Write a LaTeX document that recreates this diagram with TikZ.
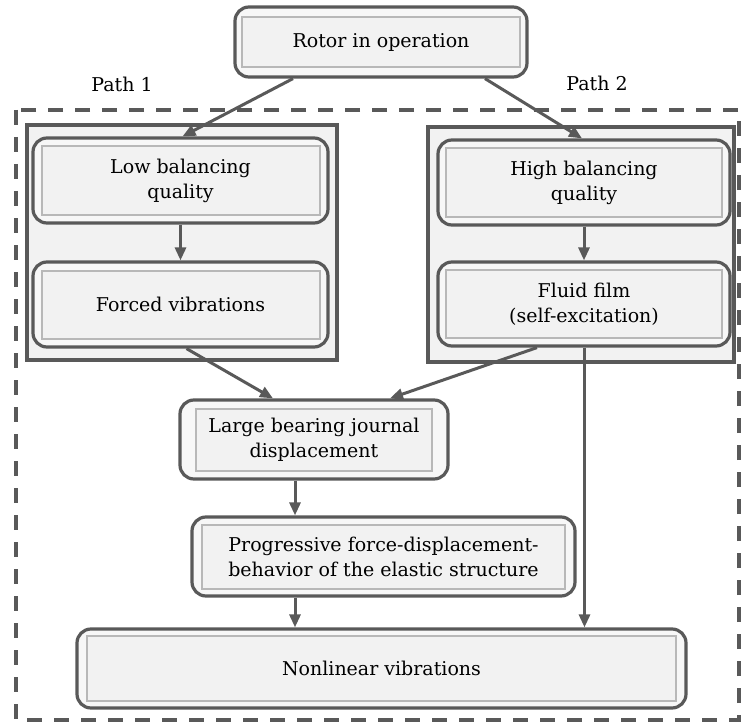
\documentclass[tikz,border=0pt]{standalone}
\usepackage{fontspec}
\setmainfont{DejaVu Serif}
\usetikzlibrary{positioning,calc,arrows.meta}

\definecolor{linegray}{HTML}{595959}
\definecolor{boxgray}{HTML}{F2F2F2}
\definecolor{edgegray}{HTML}{B8B8B8}

\tikzset{
  outerbox/.style={draw=linegray, line width=3.2pt, rounded corners=14pt, fill=boxgray!60, inner sep=0pt},
  innerbox/.style={draw=edgegray, line width=2pt, fill=boxgray, align=center, inner sep=0pt},
  groupbox/.style={draw=linegray, line width=3.6pt, fill=boxgray},
  dashbox/.style={draw=linegray, line width=4pt, dash pattern=on 15pt off 12pt},
  arr/.style={draw=linegray, line width=3pt, -{Triangle[length=13pt,width=11pt]}}
}

\begin{document}
\begin{tikzpicture}[x=1pt, y=-1pt, every node/.style={font=\fontsize{19}{25}\selectfont}]
  \useasboundingbox (0,0) rectangle (741,722);

  % Dashed frame and the two path groups
  \draw[dashbox] (16,110) rectangle (739,720);
  \draw[groupbox] (27,125) rectangle (337,360);
  \draw[groupbox] (428,127) rectangle (734,362);

  % Path labels
  \node (path1) at (122,84) {Path 1};
  \node (path2) at (597,83) {Path 2};

  % Blocks: outer rounded frame + inner shaded box
  \node[outerbox, minimum width=292, minimum height=70] (rotor) at (381,42) {};
  \node[innerbox, minimum width=278, minimum height=50] at (rotor) {Rotor in operation};

  \node[outerbox, minimum width=295, minimum height=85] (low) at (180.5,180.5) {};
  \node[innerbox, minimum width=278, minimum height=68] at (low) {Low balancing\\quality};

  \node[outerbox, minimum width=295, minimum height=85] (forced) at (180.5,304.5) {};
  \node[innerbox, minimum width=278, minimum height=68] at (forced) {Forced vibrations};

  \node[outerbox, minimum width=292, minimum height=85] (high) at (584,182.5) {};
  \node[innerbox, minimum width=276, minimum height=68] at (high) {High balancing\\quality};

  \node[outerbox, minimum width=292, minimum height=84] (fluid) at (584,304) {};
  \node[innerbox, minimum width=276, minimum height=68] at (fluid) {Fluid film\\(self-excitation)};

  \node[outerbox, minimum width=268, minimum height=79] (large) at (314,439.5) {};
  \node[innerbox, minimum width=236, minimum height=62] at (large) {Large bearing journal\\displacement};

  \node[outerbox, minimum width=383, minimum height=79] (prog) at (383.5,556.5) {};
  \node[innerbox, minimum width=363, minimum height=64] at (prog) {Progressive force-displacement-\\behavior of the elastic structure};

  \node[outerbox, minimum width=609, minimum height=79] (nonlin) at (381.5,668.5) {};
  \node[innerbox, minimum width=589, minimum height=65] at (nonlin) {Nonlinear vibrations};

  % Connectors
  \coordinate (spine) at (295,0);
  \draw[arr] ([xshift=-88pt]rotor.south) -- ([xshift=2pt]low.north);
  \draw[arr] ([xshift=104pt]rotor.south) -- ([xshift=-2pt]high.north);
  \draw[arr] (low) -- (forced);
  \draw[arr] (high) -- (fluid);
  \draw[arr] ([xshift=6pt]forced.south) -- ([xshift=-41pt]large.north);
  \draw[arr] ([xshift=-47pt]fluid.south) -- ([xshift=76pt]large.north);
  \draw[arr] ([xshift=0.5pt]fluid.south) -- ([xshift=0.5pt]fluid.south |- nonlin.north);
  \draw[arr] (large.south -| spine) -- (prog.north -| spine);
  \draw[arr] (prog.south -| spine) -- (nonlin.north -| spine);
\end{tikzpicture}
\end{document}
